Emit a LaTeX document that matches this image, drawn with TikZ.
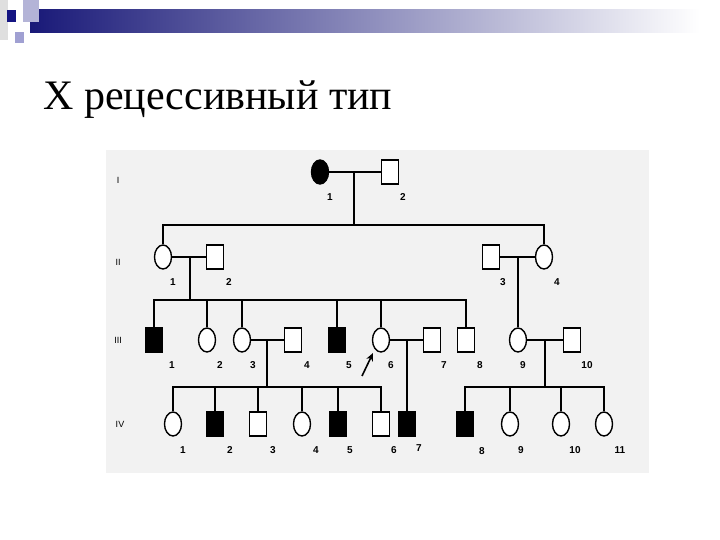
\documentclass[tikz,border=0pt]{standalone}
\usepackage{fontspec}
\setmainfont{Liberation Serif}
\newfontfamily\lbl{Liberation Sans}
\usetikzlibrary{shapes.geometric,arrows.meta}
\definecolor{navy}{RGB}{25,25,120}
\definecolor{lav}{RGB}{180,180,215}
\definecolor{dkb}{RGB}{20,20,130}
\definecolor{lav2}{RGB}{160,160,210}
\begin{document}
\begin{tikzpicture}[x=1pt,y=-1pt,
  fem/.style={draw,ellipse,minimum width=17pt,minimum height=24pt,inner sep=0pt,line width=1.4pt,fill=white},
  mal/.style={draw,rectangle,minimum width=17pt,minimum height=24pt,inner sep=0pt,line width=1.4pt,fill=white},
  aff/.style={fill=black},
  ln/.style={line width=1.4pt},
  num/.style={font=\lbl\bfseries\fontsize{10}{10}\selectfont,inner sep=0pt},
  rom/.style={font=\lbl\fontsize{9}{9}\selectfont,inner sep=0pt}]
\useasboundingbox (0,0) rectangle (720,540);
\fill[white] (0,0) rectangle (720,540);
% header decoration
\shade[left color=navy,right color=white] (30,10) rectangle (700,33);
\fill[gray!25] (0,0) rectangle (8,40);
\fill[lav] (23,0) rectangle (39,22);
\fill[dkb] (7,10) rectangle (16,22);
\fill[lav2] (15,32) rectangle (24,43);
\node[anchor=base west,inner sep=0pt,font=\fontsize{42}{42}\selectfont] (title) at (43,110) {X рецессивный тип};
% pedigree background
\fill[gray!10] (106,150) rectangle (649,473);
% roman numerals
\node[rom] (g1) at (118,180) {I};
\node[rom] (g2) at (118,262) {II};
\node[rom] (g3) at (118,340) {III};
\node[rom] (g4) at (120,424) {IV};
% gen I
\node[fem,aff] (a1) at (320,172) {};
\node[mal] (a2) at (390,172) {};
\draw[ln] (a1) -- (a2);
\coordinate (a12) at (354,172);
\coordinate (s1) at (354,225);
\draw[ln] (a12) -- (s1);
% gen II
\node[fem] (b1) at (163,257) {};
\node[mal] (b2) at (215,257) {};
\node[mal] (b3) at (491,257) {};
\node[fem] (b4) at (544,257) {};
\draw[ln] (b1.north) |- (s1) -| (b4.north);
\draw[ln] (b1) -- (b2);
\draw[ln] (b3) -- (b4);
\coordinate (b12) at (190,257);
\coordinate (s2) at (190,300);
\draw[ln] (b12) -- (s2);
% gen III
\node[mal,aff] (c1) at (154,340) {};
\node[fem] (c2) at (207,340) {};
\node[fem] (c3) at (242,340) {};
\node[mal] (c4) at (293,340) {};
\node[mal,aff] (c5) at (337,340) {};
\node[fem] (c6) at (381,340) {};
\node[mal] (c7) at (432,340) {};
\node[mal] (c8) at (466,340) {};
\node[fem] (c9) at (518,340) {};
\node[mal] (c10) at (572,340) {};
\draw[ln] (c1.north) |- (s2) -| (c8.north);
\foreach \n in {c2,c3,c5,c6} \draw[ln] (\n.north) -- (\n.north |- s2);
\coordinate (b34) at (518,257);
\draw[ln] (b34) -- (c9.north);
\draw[ln] (c3) -- (c4);
\draw[ln] (c6) -- (c7);
\draw[ln] (c9) -- (c10);
% gen IV
\node[fem] (d1) at (173,424) {};
\node[mal,aff] (d2) at (215,424) {};
\node[mal] (d3) at (258,424) {};
\node[fem] (d4) at (302,424) {};
\node[mal,aff] (d5) at (338,424) {};
\node[mal] (d6) at (381,424) {};
\node[mal,aff] (d7) at (407,424) {};
\node[mal,aff] (d8) at (465,424) {};
\node[fem] (d9) at (510,424) {};
\node[fem] (d10) at (561,424) {};
\node[fem] (d11) at (604,424) {};
\coordinate (c34) at (267,340);
\coordinate (s3) at (267,387);
\coordinate (c910) at (545,340);
\coordinate (s4) at (545,387);
\coordinate (c67) at (407,340);
\draw[ln] (c34) -- (s3);
\draw[ln] (c910) -- (s4);
\draw[ln] (c67) -- (d7.north);
\draw[ln] (d1.north) |- (s3) -| (d6.north);
\foreach \n in {d2,d3,d4,d5} \draw[ln] (\n.north) -- (\n.north |- s3);
\draw[ln] (d8.north) |- (s4) -| (d11.north);
\foreach \n in {d9,d10} \draw[ln] (\n.north) -- (\n.north |- s4);
% arrow
\coordinate (ar0) at (362,376);
\coordinate (ar1) at (373,353);
\draw[line width=1.6pt,-{Stealth[length=8pt,width=7pt]}] (ar0) -- (ar1);
% numbers
\foreach \t/\x/\y in {1/330/197,2/403/197,1/173/282,2/229/282,3/503/282,4/557/282,
 1/172/365,2/220/365,3/253/365,4/307/365,5/349/365,6/391/365,7/444/365,8/480/365,9/523/365,10/587/365,
 1/183/450,2/230/450,3/273/450,4/316/450,5/350/450,6/394/450,7/419/448,8/482/451,9/521/450,10/575/450,11/620/450}
 \node[num] at (\x,\y) {\t};
\end{tikzpicture}
\end{document}
